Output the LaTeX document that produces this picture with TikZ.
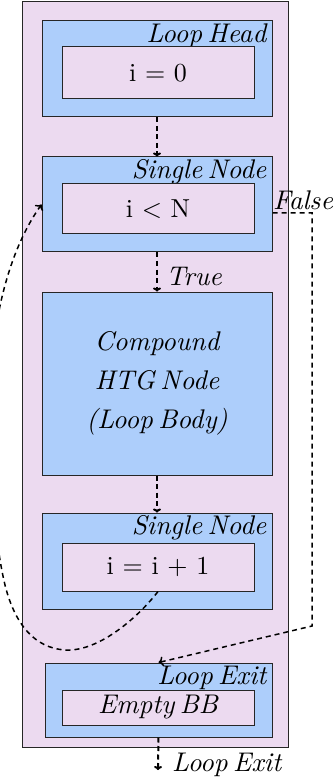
\documentclass[tikz,border=0pt]{standalone}
\usepackage{fontspec}
\setmainfont{lmroman10-regular.otf}[ItalicFont=lmroman10-italic.otf]
\usetikzlibrary{arrows.meta}
\definecolor{htgpink}{RGB}{236,218,240}
\definecolor{htgblue}{RGB}{173,206,251}
\newcommand{\htgit}{\fontsize{27}{32}\selectfont\itshape\spaceskip=0.2em\relax}
\tikzset{
  region/.style={draw=black!85, line width=1pt, fill=htgpink, inner sep=0pt},
  htgnode/.style={draw=black!85, line width=1pt, fill=htgblue, inner sep=0pt},
  bbox/.style={draw=black!85, line width=1pt, fill=htgpink, inner sep=0pt,
    font=\fontsize{26}{31}\selectfont},
  tag/.style={inner sep=0pt, anchor=north east, font=\htgit},
  flow/.style={line width=2pt, dash pattern=on 5pt off 3.5pt, -{To[length=4pt,width=8pt]}},
  jump/.style={line width=1.5pt, dash pattern=on 5pt off 4pt, -{To[length=5pt,width=10pt]}},
  edgelabel/.style={inner sep=0pt, anchor=base west, font=\htgit},
}
\begin{document}
\begin{tikzpicture}[x=1pt, y=-1pt]
\clip (0,0) rectangle (333,783);
\fill[white] (0,0) rectangle (333,783);

% enclosing loop region
\node[region, minimum width=266pt, minimum height=745pt] (loop) at (155,374.5) {};

% loop head
\node[htgnode, minimum width=230pt, minimum height=96pt] (head) at (157,69) {};
\node[tag] (headtag) at ([xshift=-6pt,yshift=-3pt]head.north east) {Loop Head};
\node[bbox, minimum width=192pt, minimum height=52pt] (init) at (158,73) {i = 0};

% loop test
\node[htgnode, minimum width=230pt, minimum height=95pt] (test) at (157,204.5) {};
\node[tag] (testtag) at ([xshift=-6pt,yshift=-3pt]test.north east) {Single Node};
\node[bbox, minimum width=192pt, minimum height=50pt] (cond) at (158,209) {i < N};

% loop body
\node[htgnode, minimum width=230pt, minimum height=183pt,
      font=\htgit\fontsize{27}{39}\selectfont, align=center] (body) at (157,383.5)
      {Compound\\HTG Node\\(Loop Body)};

% increment
\node[htgnode, minimum width=230pt, minimum height=96pt] (step) at (157,561) {};
\node[tag] (steptag) at ([xshift=-6pt,yshift=-3pt]step.north east) {Single Node};
\node[bbox, minimum width=192pt, minimum height=48pt] (inc) at (158,567) {i = i + 1};

% loop exit
\node[htgnode, minimum width=227pt, minimum height=74pt] (exit) at (158.5,700) {};
\node[tag] (exittag) at ([xshift=-6pt,yshift=-3pt]exit.north east) {Loop Exit};
\node[bbox, minimum width=192pt, minimum height=35pt, font=\htgit]
      (empty) at (158,707.5) {Empty BB};

% straight flow edges
\draw[flow] (head.south) -- (test.north);
\draw[flow] (test.south) -- (body.north);
\node[edgelabel] (truelbl) at (166,285) {True};
\draw[flow] (body.south) -- (step.north);
\coordinate (out) at (158,770);
\draw[flow] (exit.south) -- (out);
\node[edgelabel] (exitlbl) at (172,771) {Loop Exit};

% false branch to the loop exit
\coordinate (fstart) at ([yshift=-8.5pt]test.east);
\coordinate (fcorner) at (312,626);
\draw[jump] (fstart) -| (fcorner) -- (exit.north);
\node[edgelabel] (falselbl) at (273,210) {False};

% back edge to the loop test
\draw[jump] (inc.south) .. controls (140,615) and (100,652) .. (65,650)
  .. controls (35,648) and (15,625) .. (5,585)
  .. controls (-5,545) and (-40,320) .. (test.west);
\end{tikzpicture}
\end{document}
